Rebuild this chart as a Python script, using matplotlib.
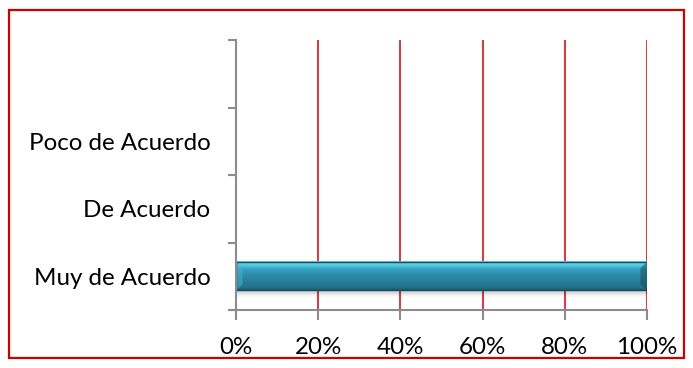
import numpy as np
import matplotlib
matplotlib.use("Agg")
import matplotlib.pyplot as plt
from matplotlib.patches import Rectangle, Polygon
from matplotlib.ticker import FuncFormatter
from matplotlib.colors import LinearSegmentedColormap

categories = ["Muy de Acuerdo", "De Acuerdo", "Poco de Acuerdo", ""]
values = [100, 0, 0, 0]
xticks = [0, 20, 40, 60, 80, 100]

plt.rcParams['font.family'] = ['Lato', 'DejaVu Sans']

W, H = 693, 368
fig = plt.figure(figsize=(W / 100, H / 100), dpi=100)

# outer red frame
frame = Rectangle((9 / W, 1 - 358 / H), (684 - 9) / W, (358 - 10) / H,
                  transform=fig.transFigure, fill=False, edgecolor="#cc0000",
                  linewidth=1.6)
fig.patches.append(frame)

ax = fig.add_axes([236 / W, 1 - 310 / H, (647 - 236) / W, (310 - 40) / H])
n = len(categories)
ax.set_xlim(0, 100)
ax.set_ylim(-0.5, n - 0.5)

# vertical gridlines
for t in xticks[1:]:
    ax.axvline(t, color="#c94545", linewidth=1.5, zorder=1)

bar_h = 0.42
cmap = LinearSegmentedColormap.from_list(
    "bar", [(0.0, "#1b5e70"), (0.08, "#22708a"), (0.45, "#2a88a3"),
            (0.72, "#34a0bd"), (0.85, "#52c6e2"), (1.0, "#72d8ee")])
for i, v in enumerate(values):
    if v <= 0:
        continue
    y0, y1 = i - bar_h / 2, i + bar_h / 2
    # soft shadow under the bar
    for k, a in enumerate(np.linspace(0.2, 0.0, 9)):
        ax.add_patch(Rectangle((0.3, y0 - 0.012 * (k + 1)), v - 0.3, 0.012,
                               facecolor="black", alpha=a, linewidth=0, zorder=2))
    grad = np.linspace(0, 1, 64).reshape(-1, 1)
    ax.imshow(grad, extent=(0, v, y0, y1), origin="lower", cmap=cmap,
              aspect="auto", zorder=3, interpolation="bilinear")
    # bevelled ends
    dx = 1.6
    inset = 0.09
    ax.add_patch(Polygon([(0, y1), (dx, y1 - inset), (dx, y0 + inset), (0, y0)],
                         closed=True, facecolor="#48b4d0", alpha=0.5,
                         linewidth=0, zorder=4))
    ax.add_patch(Polygon([(v, y1), (v - dx, y1 - inset), (v - dx, y0 + inset), (v, y0)],
                         closed=True, facecolor="#164f5f", alpha=0.55,
                         linewidth=0, zorder=4))
    ax.add_patch(Rectangle((0, y0), v, y1 - y0, fill=False,
                           edgecolor="#164d5c", linewidth=1.0, zorder=5))

# category labels centred on the bands, ticks on the band boundaries
ax.set_yticks(np.arange(n), minor=True)
ax.set_yticklabels(categories, minor=True)
ax.tick_params(axis="y", which="minor", length=0, pad=18.5, labelsize=17.4,
               labelcolor="black")
ax.set_yticks(list(np.arange(n) - 0.5) + [n - 0.5])
ax.set_yticklabels([""] * (n + 1))
ax.tick_params(axis="y", which="major", length=6, width=1.5, color="#8c8c8c")

ax.set_xticks(xticks)
ax.xaxis.set_major_formatter(FuncFormatter(lambda x, p: f"{int(x)}%"))
ax.tick_params(axis="x", length=7, width=1.5, color="#8c8c8c", labelsize=17.4,
               pad=12.5)

for s in ["top", "right"]:
    ax.spines[s].set_visible(False)
for s in ["left", "bottom"]:
    ax.spines[s].set_color("#8c8c8c")
    ax.spines[s].set_linewidth(1.5)
    ax.spines[s].set_zorder(6)
ax.spines["bottom"].set_bounds(-1.5, 100)

fig.savefig("out.png", dpi=100)
